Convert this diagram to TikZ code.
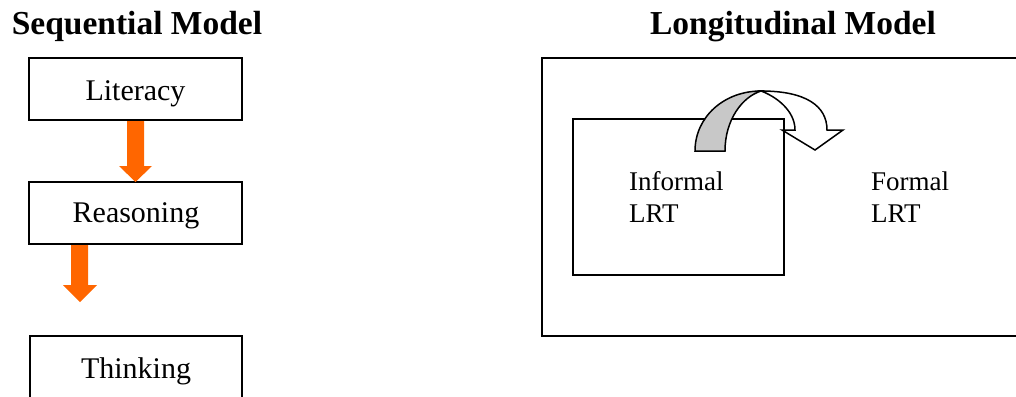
\documentclass[tikz,border=0pt]{standalone}
\usepackage{fontspec}
\setmainfont{Liberation Serif}
\definecolor{arrorange}{HTML}{FF6600}
\definecolor{bandgray}{HTML}{C8C8C8}
\begin{document}
\begin{tikzpicture}[x=1pt,y=-1pt,
  box/.style={draw=black,line width=2pt},
  title/.style={font=\fontsize{33.5}{38}\selectfont\bfseries,anchor=base,inner sep=0pt},
  boxtext/.style={font=\fontsize{30}{34}\selectfont,anchor=base,inner sep=0pt},
  lrt/.style={font=\fontsize{27}{30}\selectfont,anchor=base west,inner sep=0pt},
  blockarrow/.style={fill=arrorange,draw=none},
  curvearrow/.style={draw=black,line width=1.5pt,line join=miter}]
\useasboundingbox (0,0) rectangle (1016,396);
\clip (0,0) rectangle (1016,396);
% Sequential model
\node[title] (seqt) at (137,35) {Sequential Model};
\draw[box] (29,58) rectangle (242,120);
\draw[box] (29,182) rectangle (242,244);
\draw[box] (30,336) rectangle (242,420);
\node[boxtext] (lit) at (135.5,100) {Literacy};
\node[boxtext] (rea) at (136,222) {Reasoning};
\node[boxtext] (thi) at (136,378) {Thinking};
\fill[blockarrow] (127,121)--(144,121)--(144,166)--(152,166)--(135.5,182)--(119,166)--(127,166)--cycle;
\fill[blockarrow] (71,245)--(88,245)--(88,285)--(97,285)--(80,302)--(63,285)--(71,285)--cycle;
% Longitudinal model
\node[title] (longt) at (793,35) {Longitudinal Model};
\draw[box] (542,58) rectangle (1040,336);
\draw[box] (573,119) rectangle (784,275);
\node[lrt] (inf1) at (629,190) {Informal};
\node[lrt] (inf2) at (629,222) {LRT};
\node[lrt] (for1) at (871,190) {Formal};
\node[lrt] (for2) at (871,222) {LRT};
% curved arrow
\filldraw[curvearrow,fill=bandgray] (695,151) .. controls (695,117) and (724,91) .. (761,91)
  .. controls (742,97) and (725,120) .. (725,151) -- cycle;
\filldraw[curvearrow,fill=white] (761,91) .. controls (806,91) and (827,106) .. (827,130)
  -- (843,130) -- (815,150) -- (782,130) -- (795,130)
  .. controls (795,110) and (775,96) .. (761,91) -- cycle;
\end{tikzpicture}
\end{document}
